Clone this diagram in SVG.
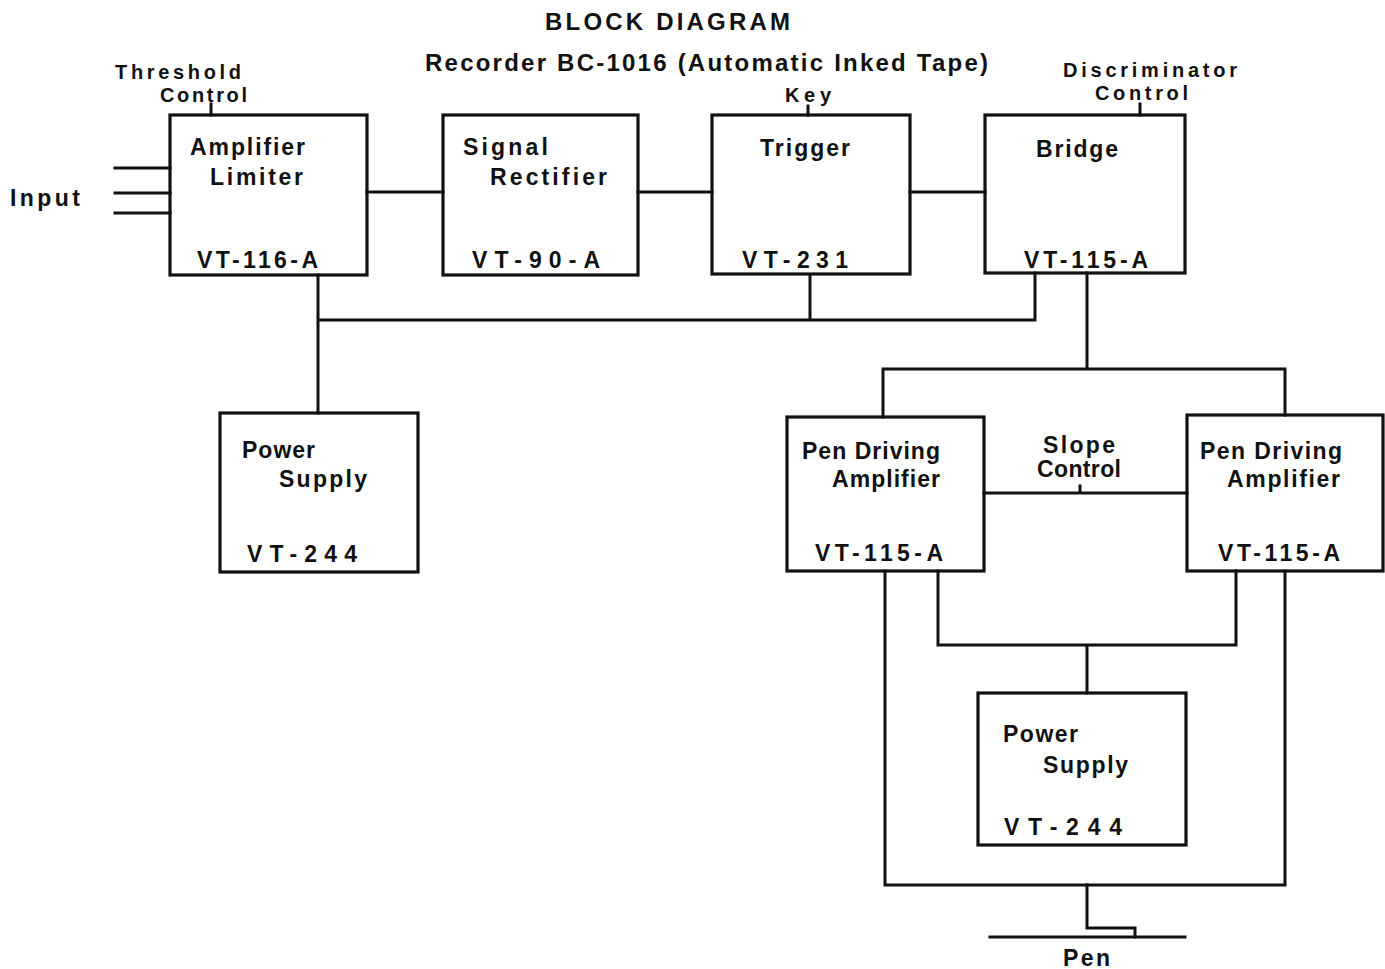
<svg xmlns="http://www.w3.org/2000/svg" width="1385" height="969" viewBox="0 0 1385 969">
<style>
text{font-family:"Liberation Sans","DejaVu Sans",Arial,sans-serif;font-weight:bold;fill:#111;font-size:23px}
.t{font-size:24px}
.s{font-size:20px}
.box{fill:none;stroke:#111;stroke-width:3.2}
.w{fill:none;stroke:#111;stroke-width:3;stroke-linecap:square;stroke-linejoin:miter}
</style>
<rect width="1385" height="969" fill="#fff"/>
<g id="title">
<text x="545" y="30" class="t" textLength="245" lengthAdjust="spacing">BLOCK  DIAGRAM</text>
<text x="425" y="71" class="t" textLength="563" lengthAdjust="spacing">Recorder BC-1016 (Automatic Inked Tape)</text>
</g>
<g id="labels">
<text x="115" y="79" class="s" textLength="126" lengthAdjust="spacing">Threshold</text>
<text x="160" y="102" class="s" textLength="87" lengthAdjust="spacing">Control</text>
<text x="10" y="206" textLength="70" lengthAdjust="spacing">Input</text>
<text x="785" y="102" class="s" textLength="46" lengthAdjust="spacing">Key</text>
<text x="1063" y="77" class="s" textLength="174" lengthAdjust="spacing">Discriminator</text>
<text x="1095" y="100" class="s" textLength="93" lengthAdjust="spacing">Control</text>
<text x="1043" y="453" textLength="72" lengthAdjust="spacing">Slope</text>
<text x="1037" y="477" textLength="84" lengthAdjust="spacing">Control</text>
<text x="1063" y="966" textLength="47" lengthAdjust="spacing">Pen</text>
</g>
<g id="amp-limiter">
<rect class="box" x="170" y="115" width="197" height="160"/>
<text x="190" y="155" textLength="115" lengthAdjust="spacing">Amplifier</text>
<text x="210" y="185" textLength="93" lengthAdjust="spacing">Limiter</text>
<text x="197" y="268" textLength="121" lengthAdjust="spacing">VT-116-A</text>
</g>
<g id="signal-rectifier">
<rect class="box" x="443" y="115" width="195" height="160"/>
<text x="463" y="155" textLength="85" lengthAdjust="spacing">Signal</text>
<text x="490" y="185" textLength="117" lengthAdjust="spacing">Rectifier</text>
<text x="472" y="268" textLength="128" lengthAdjust="spacing">VT-90-A</text>
</g>
<g id="trigger">
<rect class="box" x="712" y="115" width="198" height="159"/>
<text x="760" y="156" textLength="90" lengthAdjust="spacing">Trigger</text>
<text x="742" y="268" textLength="106" lengthAdjust="spacing">VT-231</text>
</g>
<g id="bridge">
<rect class="box" x="985" y="115" width="200" height="158"/>
<text x="1036" y="157" textLength="82" lengthAdjust="spacing">Bridge</text>
<text x="1024" y="268" textLength="124" lengthAdjust="spacing">VT-115-A</text>
</g>
<g id="power-supply-1">
<rect class="box" x="220" y="413" width="198" height="159"/>
<text x="242" y="458" textLength="73" lengthAdjust="spacing">Power</text>
<text x="279" y="487" textLength="88" lengthAdjust="spacing">Supply</text>
<text x="247" y="562" textLength="110" lengthAdjust="spacing">VT-244</text>
</g>
<g id="pen-amp-left">
<rect class="box" x="787" y="417" width="197" height="154"/>
<text x="802" y="459" textLength="138" lengthAdjust="spacing">Pen Driving</text>
<text x="832" y="487" textLength="108" lengthAdjust="spacing">Amplifier</text>
<text x="815" y="561" textLength="128" lengthAdjust="spacing">VT-115-A</text>
</g>
<g id="pen-amp-right">
<rect class="box" x="1187" y="415" width="196" height="156"/>
<text x="1200" y="459" textLength="142" lengthAdjust="spacing">Pen Driving</text>
<text x="1227" y="487" textLength="113" lengthAdjust="spacing">Amplifier</text>
<text x="1218" y="561" textLength="122" lengthAdjust="spacing">VT-115-A</text>
</g>
<g id="power-supply-2">
<rect class="box" x="978" y="693" width="208" height="152"/>
<text x="1003" y="742" textLength="75" lengthAdjust="spacing">Power</text>
<text x="1043" y="773" textLength="85" lengthAdjust="spacing">Supply</text>
<text x="1004" y="835" textLength="118" lengthAdjust="spacing">VT-244</text>
</g>
<g id="connectors">
<path class="w" d="M211 104V115M808 106V115M1140 104V115"/>
<path class="w" d="M115 168H170M115 193H170M115 213H170"/>
<path class="w" d="M367 192H443M638 192H712M910 192H985"/>
<path class="w" d="M318 275V413M318 320H1035V273M810 275V320"/>
<path class="w" d="M1087 273V369M883 417V369H1285V415"/>
<path class="w" d="M984 493H1187M1080 486V493"/>
<path class="w" d="M938 571V645H1236V571M1087 645V693"/>
<path class="w" d="M885 571V885H1285V571"/>
<path class="w" d="M1087 885V928H1135V937"/>
<path class="w" d="M990 937H1185"/>
</g>
</svg>
